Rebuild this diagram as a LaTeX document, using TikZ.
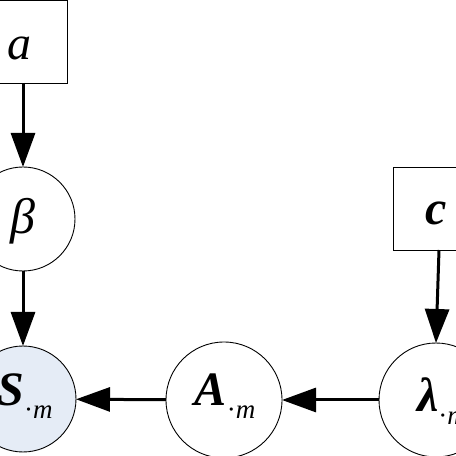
\documentclass[tikz,border=0pt]{standalone}
\usepackage{fontspec}
\setmainfont{Liberation Serif}
\usetikzlibrary{arrows.meta}
\definecolor{sfill}{HTML}{E5ECF6}
\newcommand{\subm}{\raisebox{-12pt}{\normalfont\fontsize{27}{27}\selectfont\textperiodcentered\textit{m}}}
\begin{document}
\begin{tikzpicture}[x=1pt,y=1pt,
  obs/.style={draw, line width=0.9pt, rectangle, minimum width=88pt, minimum height=83pt, inner sep=0pt, outer sep=0pt},
  var/.style={draw, line width=0.9pt, circle, inner sep=0pt, outer sep=0pt},
  lbl/.style={inner sep=0pt, outer sep=0pt, font=\fontsize{48}{48}\selectfont\itshape},
  edge/.style={line width=3pt, -{Triangle[length=34pt,width=24pt]}}]
\useasboundingbox (0,0) rectangle (456,456);
\clip (0,0) rectangle (456,456);
\node[obs] (a) at (23,414.5) {};
\node[var, minimum size=104pt] (beta) at (23,237) {};
\node[var, minimum size=106pt, fill=sfill] (S) at (23,57) {};
\node[var, minimum size=116pt] (A) at (224,56) {};
\node[var, minimum size=114pt] (lam) at (436,56) {};
\node[obs, minimum width=86pt] (c) at (436,247.5) {};
\node[lbl, anchor=base] (ta) at (19,396) {a};
\node[lbl, font=\fontsize{50}{50}\selectfont\itshape] (tb) at (23,235) {β};
\node[lbl, anchor=base] (tc) at (436,231) {\bfseries c};
\node[lbl, anchor=base] (tS) at (25,50) {\bfseries S\subm};
\node[lbl, anchor=base] (tA) at (225,50) {\bfseries A\subm};
\node[lbl, anchor=base] (tl) at (442,44) {\bfseries λ\subm};
\draw[edge] (a) -- (beta);
\draw[edge] (beta) -- (S);
\draw[edge] ([xshift=3pt]c.south) -- (lam.north);
\draw[edge] (lam) -- (A);
\draw[edge] (A) -- (S);
\end{tikzpicture}
\end{document}
